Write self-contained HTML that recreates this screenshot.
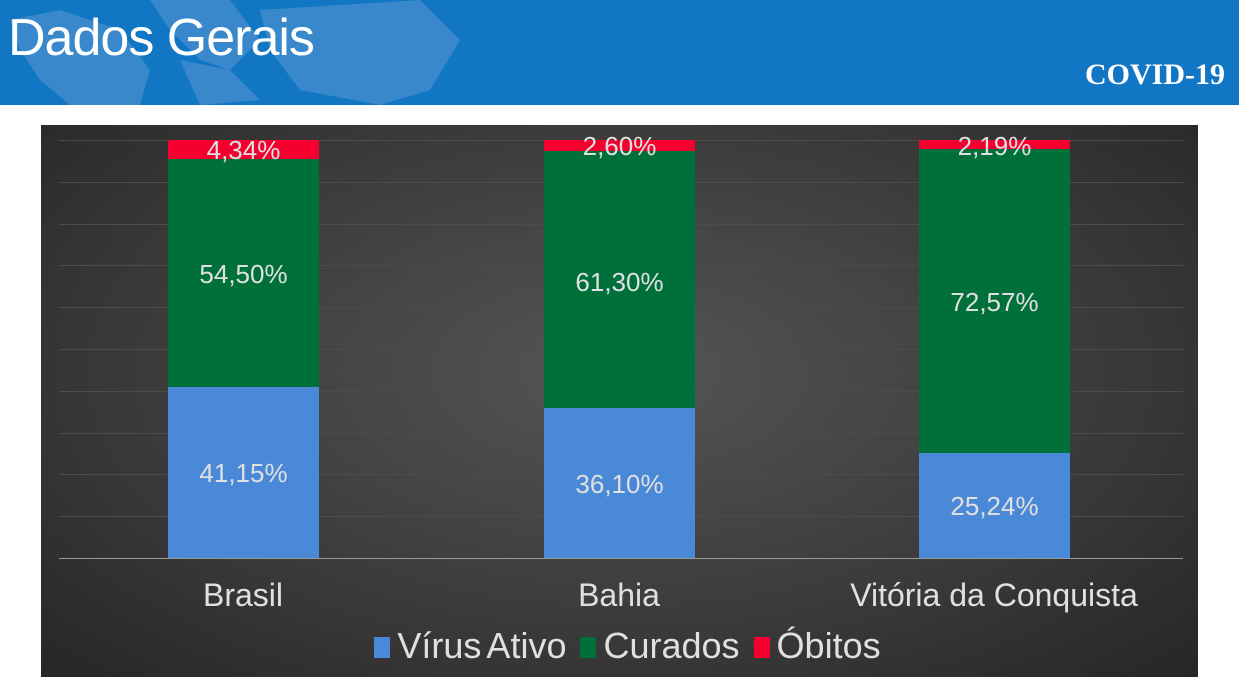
<!DOCTYPE html><html><head><style>
body{margin:0;width:1239px;height:698px;background:#fff;position:relative;overflow:hidden;font-family:"Liberation Sans",sans-serif}
.hdr{position:absolute;left:0;top:0;width:1239px;height:105px;background:#1176c4;overflow:hidden}
.t{position:absolute;left:8px;top:8px;color:#fff;font-size:52px;letter-spacing:-1px}
.cv{position:absolute;right:14px;top:58px;color:#fff;font-family:"Liberation Serif",serif;font-weight:bold;font-size:30px}
.ch{position:absolute;left:41px;top:125px;width:1157px;height:552px;background:radial-gradient(ellipse at 50% 45%,#555 0%,#3a3a3a 60%,#262626 100%)}
.g{position:absolute;left:18px;width:1124px;height:1px;background:#4c4c4c}
.b{position:absolute;width:151px}
.l{position:absolute;width:151px;text-align:center;color:#e0e0e0;font-size:26px}
.c{position:absolute;color:#e0e0e0;font-size:32px;text-align:center;width:400px}
</style></head><body>
<div class="hdr"><svg width="480" height="105" style="position:absolute;left:0;top:0"><path d="M10 20 L60 10 L120 30 L150 70 L140 105 L70 105 L40 80 L20 50Z M150 0 L230 0 L260 40 L230 70 L200 60 L170 30Z M180 60 L230 70 L260 100 L200 105Z M260 10 L420 0 L460 40 L430 90 L380 105 L300 90 L270 50Z" fill="#4a90d0" opacity="0.7"/></svg>
<div class="t">Dados Gerais</div><div class="cv">COVID-19</div></div>
<div class="ch">
<div class="g" style="top:15px"></div><div class="g" style="top:57px"></div><div class="g" style="top:99px"></div><div class="g" style="top:140px"></div><div class="g" style="top:182px"></div><div class="g" style="top:224px"></div><div class="g" style="top:266px"></div><div class="g" style="top:308px"></div><div class="g" style="top:349px"></div><div class="g" style="top:391px"></div>
<div class="g" style="top:433px;background:#9a9a9a"></div>
<div class="b" style="left:127px;top:15px;height:19px;background:#f5002e"></div>
<div class="b" style="left:127px;top:34px;height:228px;background:#00703a"></div>
<div class="b" style="left:127px;top:262px;height:171px;background:#4a88d8"></div>
<div class="b" style="left:503px;top:15px;height:11px;background:#f5002e"></div>
<div class="b" style="left:503px;top:26px;height:257px;background:#00703a"></div>
<div class="b" style="left:503px;top:283px;height:150px;background:#4a88d8"></div>
<div class="b" style="left:878px;top:15px;height:9px;background:#f5002e"></div>
<div class="b" style="left:878px;top:24px;height:304px;background:#00703a"></div>
<div class="b" style="left:878px;top:328px;height:105px;background:#4a88d8"></div>
<div class="l" style="left:127px;top:10px">4,34%</div>
<div class="l" style="left:127px;top:134px">54,50%</div>
<div class="l" style="left:127px;top:333px">41,15%</div>
<div class="l" style="left:503px;top:6px">2,60%</div>
<div class="l" style="left:503px;top:142px">61,30%</div>
<div class="l" style="left:503px;top:344px">36,10%</div>
<div class="l" style="left:878px;top:6px">2,19%</div>
<div class="l" style="left:878px;top:162px">72,57%</div>
<div class="l" style="left:878px;top:366px">25,24%</div>
<div class="c" style="left:2px;top:452px">Brasil</div>
<div class="c" style="left:378px;top:452px">Bahia</div>
<div class="c" style="left:753px;top:452px">Vitória da Conquista</div>
<div style="position:absolute;left:8px;width:1157px;top:500px;text-align:center;color:#e0e0e0;font-size:36px;word-spacing:-3px">
<span style="display:inline-block;width:16px;height:21px;background:#4a88d8"></span> Vírus Ativo &nbsp;<span style="display:inline-block;width:16px;height:21px;background:#00703a"></span> Curados &nbsp;<span style="display:inline-block;width:16px;height:21px;background:#f5002e"></span> Óbitos</div>
</div>
</body></html>
